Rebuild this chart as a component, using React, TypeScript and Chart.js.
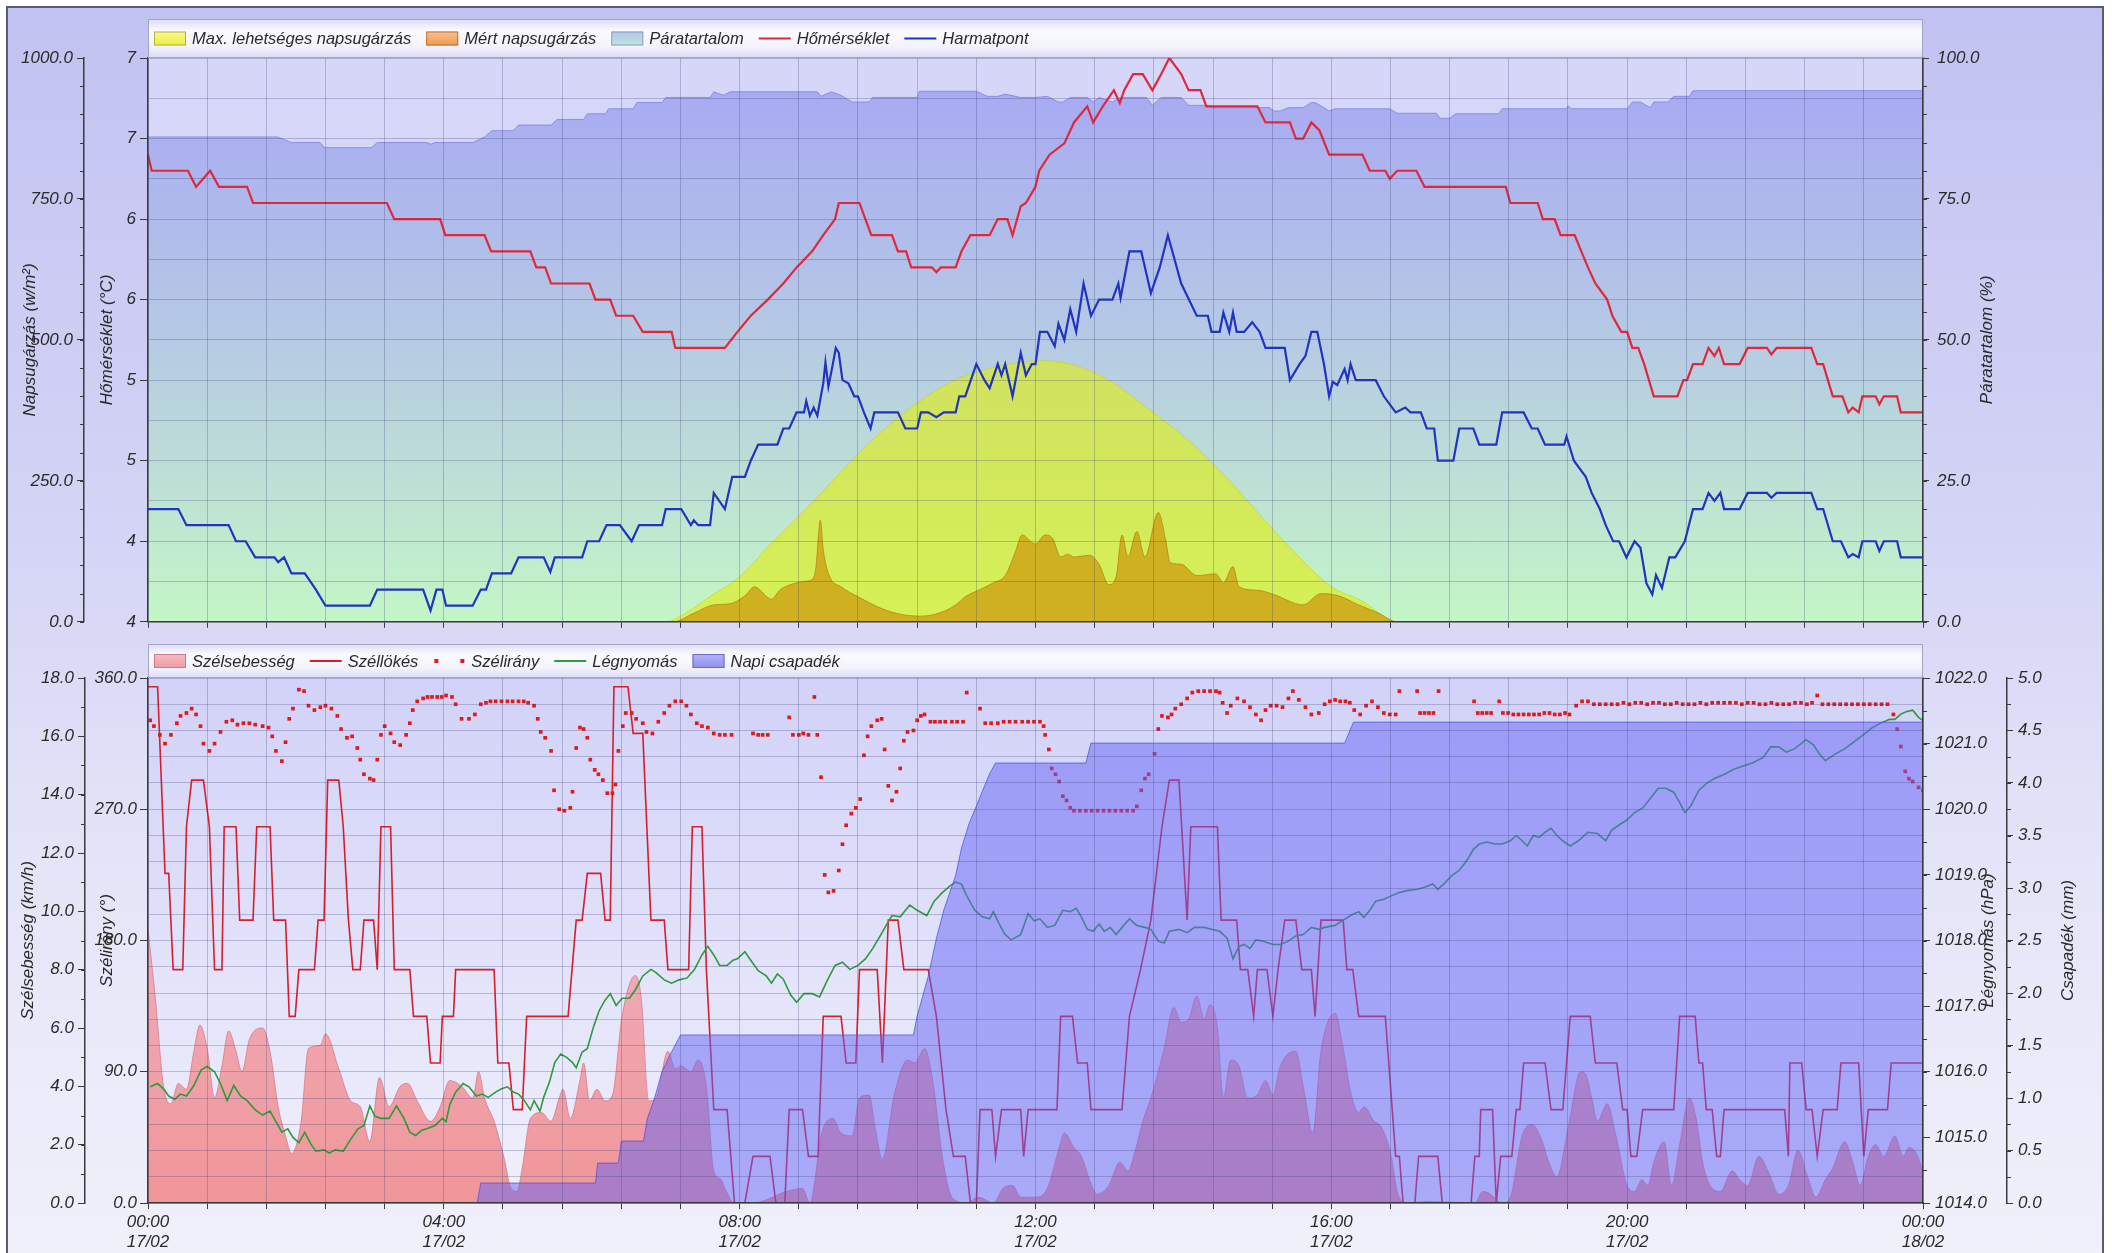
import React, { useEffect, useRef } from 'react';
import { Chart, registerables } from 'chart.js';

Chart.register(...registerables);

// ---------------- DATA (hour of day, value) ----------------
const TEMPERATURE: number[][] = [[0,6.7],[0.05,6.6],[0.54,6.6],[0.65,6.5],[0.84,6.6],[0.96,6.5],[1.34,6.5],[1.42,6.4],[3.23,6.4],[3.33,6.3],[3.95,6.3],[4.02,6.2],[4.55,6.2],[4.64,6.1],[5.17,6.1],[5.25,6.0],[5.37,6.0],[5.45,5.9],[5.97,5.9],[6.05,5.8],[6.25,5.8],[6.33,5.7],[6.56,5.7],[6.69,5.6],[7.08,5.6],[7.13,5.5],[7.8,5.5],[7.97,5.6],[8.15,5.7],[8.38,5.8],[8.59,5.9],[8.77,6.0],[8.98,6.1],[9.13,6.2],[9.29,6.3],[9.34,6.4],[9.62,6.4],[9.7,6.3],[9.78,6.2],[10.06,6.2],[10.14,6.1],[10.25,6.1],[10.32,6.0],[10.6,6.0],[10.66,5.97],[10.72,6.0],[10.92,6.0],[11.0,6.1],[11.12,6.2],[11.38,6.2],[11.49,6.3],[11.62,6.3],[11.69,6.2],[11.8,6.38],[11.87,6.4],[12.0,6.5],[12.05,6.6],[12.19,6.7],[12.39,6.77],[12.52,6.9],[12.7,7.0],[12.78,6.9],[12.91,7.0],[13.06,7.1],[13.14,7.02],[13.2,7.1],[13.32,7.2],[13.45,7.2],[13.58,7.1],[13.7,7.2],[13.81,7.3],[13.97,7.2],[14.07,7.1],[14.23,7.1],[14.31,7.0],[15.0,7.0],[15.11,6.9],[15.44,6.9],[15.52,6.8],[15.62,6.8],[15.73,6.9],[15.84,6.85],[15.97,6.7],[16.42,6.7],[16.52,6.6],[16.73,6.6],[16.79,6.55],[16.89,6.6],[17.15,6.6],[17.26,6.5],[18.36,6.5],[18.42,6.4],[18.79,6.4],[18.86,6.3],[19.02,6.3],[19.1,6.2],[19.29,6.2],[19.38,6.1],[19.47,6.0],[19.57,5.9],[19.73,5.8],[19.8,5.7],[19.92,5.6],[20.0,5.6],[20.07,5.5],[20.15,5.5],[20.23,5.4],[20.36,5.2],[20.68,5.2],[20.76,5.3],[20.81,5.3],[20.89,5.4],[21.02,5.4],[21.1,5.5],[21.18,5.45],[21.24,5.5],[21.31,5.4],[21.52,5.4],[21.63,5.5],[21.89,5.5],[21.95,5.46],[22.02,5.5],[22.49,5.5],[22.57,5.4],[22.65,5.4],[22.78,5.2],[22.91,5.2],[22.99,5.1],[23.05,5.13],[23.13,5.1],[23.18,5.2],[23.36,5.2],[23.41,5.15],[23.47,5.2],[23.65,5.2],[23.7,5.1],[24,5.1]];

const DEW_POINT: number[][] = [[0,4.5],[0.41,4.5],[0.52,4.4],[1.09,4.4],[1.19,4.3],[1.32,4.3],[1.45,4.2],[1.71,4.2],[1.76,4.17],[1.84,4.2],[1.94,4.1],[2.12,4.1],[2.27,4.0],[2.4,3.9],[3.0,3.9],[3.1,4.0],[3.72,4.0],[3.82,3.87],[3.9,4.0],[3.98,4.0],[4.03,3.9],[4.39,3.9],[4.5,4.0],[4.57,4.0],[4.65,4.1],[4.91,4.1],[5.01,4.2],[5.35,4.2],[5.44,4.11],[5.5,4.2],[5.87,4.2],[5.94,4.3],[6.1,4.3],[6.2,4.4],[6.38,4.4],[6.54,4.3],[6.64,4.4],[6.95,4.4],[7.0,4.5],[7.21,4.5],[7.34,4.4],[7.38,4.43],[7.44,4.4],[7.6,4.4],[7.65,4.6],[7.8,4.5],[7.9,4.7],[8.07,4.7],[8.15,4.8],[8.25,4.9],[8.51,4.9],[8.59,5.0],[8.67,5.0],[8.77,5.1],[8.87,5.1],[8.9,5.17],[8.95,5.08],[9.0,5.13],[9.05,5.08],[9.13,5.28],[9.16,5.41],[9.2,5.26],[9.26,5.4],[9.3,5.5],[9.34,5.47],[9.39,5.3],[9.47,5.28],[9.55,5.2],[9.6,5.2],[9.68,5.1],[9.77,5.0],[9.82,5.1],[10.14,5.1],[10.24,5.0],[10.4,5.0],[10.45,5.1],[10.55,5.1],[10.66,5.07],[10.76,5.1],[10.92,5.1],[10.97,5.2],[11.05,5.2],[11.2,5.4],[11.31,5.3],[11.38,5.25],[11.49,5.4],[11.54,5.33],[11.59,5.4],[11.69,5.2],[11.8,5.47],[11.87,5.33],[11.95,5.4],[12.0,5.4],[12.06,5.6],[12.16,5.6],[12.26,5.51],[12.31,5.65],[12.39,5.55],[12.47,5.74],[12.55,5.6],[12.65,5.9],[12.75,5.7],[12.86,5.8],[13.04,5.8],[13.12,5.9],[13.15,5.81],[13.27,6.1],[13.43,6.1],[13.56,5.84],[13.68,6.0],[13.79,6.2],[13.97,5.9],[14.18,5.7],[14.33,5.7],[14.38,5.6],[14.49,5.6],[14.54,5.72],[14.62,5.6],[14.67,5.72],[14.72,5.6],[14.82,5.6],[14.93,5.66],[15.03,5.6],[15.11,5.5],[15.37,5.5],[15.44,5.3],[15.57,5.4],[15.65,5.45],[15.73,5.6],[15.81,5.6],[15.9,5.4],[15.97,5.2],[16.02,5.29],[16.08,5.27],[16.18,5.37],[16.22,5.3],[16.26,5.4],[16.33,5.3],[16.6,5.3],[16.71,5.2],[16.87,5.1],[17.0,5.13],[17.07,5.1],[17.21,5.1],[17.29,5.0],[17.39,5.0],[17.44,4.8],[17.65,4.8],[17.73,5.0],[17.92,5.0],[18.0,4.9],[18.23,4.9],[18.31,5.1],[18.6,5.1],[18.71,5.0],[18.79,5.0],[18.89,4.9],[19.15,4.9],[19.18,4.95],[19.28,4.8],[19.44,4.7],[19.52,4.6],[19.63,4.5],[19.71,4.4],[19.81,4.3],[19.89,4.3],[19.99,4.2],[20.1,4.3],[20.18,4.26],[20.26,4.04],[20.34,3.97],[20.39,4.09],[20.47,4.01],[20.57,4.2],[20.65,4.2],[20.78,4.3],[20.89,4.5],[21.02,4.5],[21.1,4.6],[21.18,4.55],[21.26,4.6],[21.31,4.5],[21.52,4.5],[21.63,4.6],[21.89,4.6],[21.95,4.57],[22.02,4.6],[22.49,4.6],[22.57,4.5],[22.65,4.5],[22.78,4.3],[22.89,4.3],[22.99,4.2],[23.05,4.22],[23.13,4.2],[23.18,4.3],[23.36,4.3],[23.41,4.24],[23.47,4.3],[23.65,4.3],[23.7,4.2],[24,4.2]];

const HUMIDITY: number[][] = [[0,86.0],[1.75,86.0],[1.83,85.6],[1.94,85.0],[2.33,85.0],[2.38,84.1],[3.02,84.1],[3.1,85.0],[3.77,85.0],[3.82,84.7],[3.88,85.0],[4.39,85.0],[4.55,86.0],[4.65,87.1],[4.94,87.1],[5.01,88.1],[5.45,88.1],[5.53,89.1],[5.89,89.1],[5.94,90.1],[6.18,90.1],[6.23,91.0],[6.56,91.0],[6.61,92.1],[6.95,92.1],[7.0,93.0],[7.6,93.0],[7.65,94.0],[7.78,93.4],[7.87,94.0],[9.05,94.0],[9.1,93.2],[9.24,94.0],[9.37,93.4],[9.52,92.2],[9.75,92.2],[9.8,93.0],[10.4,93.0],[10.43,94.1],[11.2,94.1],[11.35,93.2],[11.49,93.2],[11.59,93.6],[11.8,93.0],[12.0,93.0],[12.16,93.2],[12.31,92.2],[12.37,92.2],[12.47,93.0],[12.7,93.0],[12.78,92.2],[12.86,93.0],[13.04,92.2],[13.14,93.0],[13.5,93.0],[13.58,91.6],[13.7,93.0],[13.97,93.0],[14.07,91.6],[14.33,91.6],[14.38,91.2],[15.16,91.2],[15.23,90.6],[15.31,90.6],[15.42,91.2],[15.62,91.2],[15.73,92.1],[15.78,92.1],[15.9,91.2],[15.97,90.6],[16.05,91.0],[16.79,91.0],[16.89,90.2],[17.42,90.2],[17.47,89.3],[17.6,89.3],[17.68,90.1],[18.26,90.1],[18.31,91.0],[19.18,91.0],[19.2,91.5],[19.25,91.0],[20.0,91.0],[20.07,92.2],[20.18,92.2],[20.31,91.2],[20.36,92.2],[20.55,92.2],[20.63,93.2],[20.84,93.2],[20.89,94.2],[24,94.2]];

const MAX_RADIATION: number[][] = [[0,0],[7.0,0],[7.3,18],[7.6,45],[8.0,80],[8.4,135],[8.9,200],[9.4,270],[9.9,335],[10.4,388],[10.9,428],[11.5,453],[12.1,463],[12.5,456],[13.0,428],[13.5,380],[14.1,318],[14.6,253],[15.1,180],[15.6,110],[16.0,62],[16.4,38],[16.9,0],[24,0]];

const MEASURED_RADIATION: number[][] = [[0,0],[7.1,0],[7.39,16],[7.65,30],[7.87,32],[8.07,46],[8.2,62],[8.38,43],[8.43,40],[8.54,56],[8.69,66],[8.9,72],[8.98,75],[9.03,95],[9.07,160],[9.09,180],[9.13,128],[9.21,82],[9.37,62],[9.62,43],[9.93,23],[10.19,13],[10.45,10],[10.71,16],[10.92,30],[11.07,46],[11.23,56],[11.43,69],[11.59,82],[11.72,121],[11.82,154],[11.95,141],[12.0,138],[12.13,154],[12.23,148],[12.34,115],[12.44,120],[12.52,115],[12.73,118],[12.86,102],[12.99,66],[13.09,80],[13.17,154],[13.25,115],[13.37,160],[13.48,115],[13.66,194],[13.76,145],[13.82,105],[13.97,102],[14.18,82],[14.44,85],[14.54,69],[14.67,98],[14.75,62],[15.0,56],[15.21,49],[15.62,30],[15.86,50],[16.1,46],[16.37,30],[16.63,16],[16.89,0],[24,0]];

const WIND_SPEED: number[][] = [[0,9.4],[0.1,7.0],[0.21,4.0],[0.31,3.4],[0.41,4.1],[0.52,3.9],[0.62,5.2],[0.7,6.1],[0.8,5.3],[0.9,3.6],[1.0,4.7],[1.09,5.9],[1.19,5.2],[1.27,4.5],[1.37,5.6],[1.55,6.0],[1.65,5.2],[1.76,3.3],[1.86,2.3],[1.94,1.7],[2.07,2.8],[2.17,5.3],[2.33,5.4],[2.4,5.8],[2.58,4.6],[2.74,3.5],[2.87,3.3],[3.0,2.1],[3.13,4.3],[3.26,3.3],[3.41,4.0],[3.51,4.1],[3.64,3.5],[3.82,2.8],[3.95,3.3],[4.08,4.2],[4.24,4.0],[4.39,3.6],[4.47,4.5],[4.55,3.6],[4.68,2.8],[4.81,1.6],[4.91,0.5],[4.99,0.4],[5.06,1.2],[5.17,2.9],[5.32,3.1],[5.45,2.8],[5.56,3.6],[5.61,3.9],[5.71,2.9],[5.84,4.2],[5.89,4.8],[5.97,3.5],[6.07,3.9],[6.18,3.5],[6.28,3.7],[6.41,6.4],[6.59,7.8],[6.67,7.0],[6.77,3.5],[6.87,3.6],[7.03,5.2],[7.13,4.6],[7.21,4.7],[7.34,4.5],[7.44,4.9],[7.55,4.0],[7.65,1.1],[7.75,0.8],[7.8,0.5],[7.93,0],[8.18,0],[8.64,0.4],[8.85,0.5],[8.95,0],[9.11,2.4],[9.26,2.9],[9.37,2.4],[9.52,2.3],[9.62,3.6],[9.75,3.7],[9.83,2.6],[9.93,1.5],[10.09,3.7],[10.27,4.9],[10.37,4.8],[10.5,5.3],[10.61,4.2],[10.74,1.6],[10.87,0.2],[11.07,0],[11.23,0.2],[11.43,0],[11.56,0.5],[11.69,0.6],[11.8,0.2],[12.0,0.2],[12.16,0.5],[12.31,1.8],[12.39,2.4],[12.52,1.9],[12.62,1.6],[12.73,0.8],[12.83,0.3],[12.99,0.6],[13.14,1.4],[13.25,1.1],[13.35,1.8],[13.45,2.8],[13.56,3.6],[13.66,4.5],[13.74,5.3],[13.87,6.7],[13.97,6.2],[14.07,6.3],[14.18,7.1],[14.28,6.3],[14.36,6.8],[14.46,6.0],[14.54,3.6],[14.64,4.9],[14.75,4.7],[14.87,3.6],[15.0,3.7],[15.11,4.2],[15.21,3.7],[15.31,4.7],[15.52,5.2],[15.62,4.0],[15.75,2.4],[15.86,5.2],[16.05,6.5],[16.16,5.3],[16.26,3.8],[16.37,3.1],[16.44,3.3],[16.58,2.8],[16.68,2.6],[16.81,1.6],[16.89,0.4],[17.0,0],[17.31,0.05],[17.94,0],[18.05,0.4],[18.15,0.3],[18.31,0],[18.42,0.2],[18.58,2.3],[18.71,2.7],[18.84,2.2],[18.94,1.4],[19.05,0.9],[19.21,2.7],[19.37,4.5],[19.44,4.4],[19.52,3.6],[19.6,2.8],[19.73,3.4],[19.84,2.4],[20.0,0.6],[20.1,0.4],[20.2,0.8],[20.28,0.6],[20.36,1.4],[20.5,2.1],[20.6,0.6],[20.71,2.0],[20.84,3.6],[20.94,2.8],[21.02,1.4],[21.15,0.5],[21.26,0.4],[21.42,1.1],[21.52,0.8],[21.63,0.6],[21.78,1.6],[21.92,1.0],[22.05,0.3],[22.18,0.6],[22.31,1.8],[22.44,0.9],[22.55,0.2],[22.68,0.8],[22.78,1.2],[22.94,2.1],[23.05,1.4],[23.15,0.6],[23.26,1.6],[23.36,2.0],[23.47,1.6],[23.62,2.3],[23.73,1.6],[23.81,1.9],[23.91,1.7],[24,1.1]];

const WIND_GUST: number[][] = [[0,17.7],[0.13,17.7],[0.23,11.3],[0.28,11.3],[0.34,8.0],[0.47,8.0],[0.52,12.9],[0.59,14.5],[0.75,14.5],[0.83,12.9],[0.9,8.0],[1.0,8.0],[1.03,12.9],[1.19,12.9],[1.24,9.7],[1.42,9.7],[1.47,12.9],[1.65,12.9],[1.7,9.7],[1.86,9.7],[1.91,6.4],[1.99,6.4],[2.04,8.0],[2.25,8.0],[2.3,9.7],[2.38,9.7],[2.43,14.5],[2.58,14.5],[2.64,12.9],[2.71,9.7],[2.77,8.0],[2.87,8.0],[2.92,9.7],[3.05,9.7],[3.1,8.0],[3.15,12.9],[3.28,12.9],[3.33,8.0],[3.54,8.0],[3.59,6.4],[3.77,6.4],[3.82,4.8],[3.95,4.8],[3.98,6.4],[4.13,6.4],[4.16,8.0],[4.68,8.0],[4.73,4.8],[4.88,4.8],[4.94,3.2],[5.06,3.2],[5.12,6.4],[5.68,6.4],[5.79,9.7],[5.87,9.7],[5.94,11.3],[6.12,11.3],[6.18,9.7],[6.25,9.7],[6.3,17.7],[6.49,17.7],[6.56,16.1],[6.69,16.1],[6.8,9.7],[6.98,9.7],[7.03,8.0],[7.31,8.0],[7.36,12.9],[7.49,12.9],[7.55,8.0],[7.65,3.2],[7.83,3.2],[7.93,0],[8.07,0],[8.18,1.6],[8.41,1.6],[8.49,0],[8.61,0],[8.67,3.2],[8.85,3.2],[8.93,1.6],[9.06,1.6],[9.13,6.4],[9.37,6.4],[9.44,4.8],[9.57,4.8],[9.62,8.0],[9.86,8.0],[9.93,4.8],[10.01,9.7],[10.14,9.7],[10.22,8.0],[10.55,8.0],[10.66,6.4],[10.79,3.2],[10.89,1.6],[11.05,1.6],[11.12,0],[11.2,0],[11.25,3.2],[11.41,3.2],[11.46,1.6],[11.54,3.2],[11.8,3.2],[11.84,1.6],[11.9,3.2],[12.29,3.2],[12.34,6.4],[12.5,6.4],[12.57,4.8],[12.7,4.8],[12.75,3.2],[13.17,3.2],[13.27,6.4],[13.42,8.0],[13.56,9.7],[13.71,12.9],[13.81,14.5],[13.94,14.5],[14.05,9.7],[14.1,12.9],[14.46,12.9],[14.51,9.7],[14.72,9.7],[14.77,8.0],[14.87,8.0],[14.95,6.4],[15.0,8.0],[15.13,8.0],[15.21,6.4],[15.28,8.0],[15.37,9.7],[15.52,9.7],[15.6,8.0],[15.73,8.0],[15.78,6.4],[15.86,9.7],[16.16,9.7],[16.21,8.0],[16.29,8.0],[16.37,6.4],[16.73,6.4],[16.87,1.6],[16.92,1.6],[16.97,0],[17.13,0],[17.18,1.6],[17.44,1.6],[17.5,0],[17.89,0],[17.94,1.6],[18.0,1.6],[18.02,3.2],[18.18,3.2],[18.23,0],[18.29,1.6],[18.44,1.6],[18.5,3.2],[18.55,3.2],[18.6,4.8],[18.89,4.8],[18.97,3.2],[19.13,3.2],[19.23,6.4],[19.5,6.4],[19.57,4.8],[19.86,4.8],[19.94,3.2],[20.0,3.2],[20.05,1.6],[20.13,1.6],[20.21,3.2],[20.63,3.2],[20.71,6.4],[20.92,6.4],[20.97,4.8],[21.02,4.8],[21.07,3.2],[21.15,3.2],[21.21,1.6],[21.26,1.6],[21.31,3.2],[22.13,3.2],[22.18,1.6],[22.2,4.8],[22.36,4.8],[22.42,3.2],[22.5,3.2],[22.57,1.6],[22.65,3.2],[22.84,3.2],[22.89,4.8],[23.13,4.8],[23.2,1.6],[23.26,3.2],[23.52,3.2],[23.57,4.8],[24,4.8]];

const WIND_DIRECTION: number[][] = [[0.03,331],[0.08,327],[0.16,321],[0.23,315],[0.31,321],[0.39,329],[0.44,334],[0.52,336],[0.59,339],[0.65,335],[0.71,327],[0.75,315],[0.83,310],[0.9,315],[0.98,323],[1.06,330],[1.14,331],[1.21,328],[1.29,329],[1.37,329],[1.45,328],[1.55,327],[1.63,326],[1.68,320],[1.73,310],[1.81,303],[1.86,316],[1.91,332],[1.96,339],[2.04,352],[2.11,351],[2.17,341],[2.25,338],[2.33,340],[2.4,341],[2.48,339],[2.56,334],[2.61,325],[2.69,319],[2.76,320],[2.83,312],[2.87,304],[2.92,294],[3.0,291],[3.05,290],[3.1,304],[3.15,321],[3.2,327],[3.28,322],[3.33,316],[3.41,314],[3.49,321],[3.54,329],[3.58,338],[3.64,344],[3.72,346],[3.78,347],[3.84,347],[3.91,347],[3.97,347],[4.03,348],[4.11,347],[4.16,342],[4.24,332],[4.34,332],[4.42,335],[4.5,342],[4.57,343],[4.63,344],[4.7,344],[4.78,344],[4.86,344],[4.93,344],[5.01,344],[5.08,344],[5.14,343],[5.22,341],[5.27,332],[5.31,323],[5.37,319],[5.45,310],[5.49,283],[5.56,270],[5.63,269],[5.71,271],[5.74,282],[5.79,312],[5.84,326],[5.89,325],[5.94,319],[5.98,304],[6.04,297],[6.09,294],[6.15,290],[6.21,281],[6.28,281],[6.32,287],[6.36,310],[6.42,327],[6.46,336],[6.54,336],[6.6,332],[6.69,329],[6.74,323],[6.82,322],[6.9,330],[6.98,336],[7.05,341],[7.13,344],[7.21,344],[7.28,341],[7.34,335],[7.42,329],[7.49,327],[7.57,326],[7.65,322],[7.73,321],[7.8,321],[7.89,321],[8.18,322],[8.25,321],[8.31,321],[8.38,321],[8.67,333],[8.72,321],[8.8,321],[8.86,322],[8.93,321],[9.01,347],[9.05,321],[9.1,292],[9.15,225],[9.2,213],[9.27,214],[9.34,228],[9.39,246],[9.44,259],[9.51,267],[9.57,271],[9.63,277],[9.68,307],[9.73,320],[9.78,327],[9.86,331],[9.92,332],[9.96,311],[10.01,286],[10.06,276],[10.12,282],[10.17,298],[10.22,317],[10.27,323],[10.35,324],[10.4,331],[10.45,334],[10.5,335],[10.58,330],[10.64,330],[10.71,330],[10.78,330],[10.87,330],[10.94,330],[11.02,330],[11.07,350],[11.25,339],[11.32,329],[11.4,329],[11.49,329],[11.57,330],[11.65,330],[11.73,330],[11.82,330],[11.9,330],[11.98,330],[12.06,330],[12.11,327],[12.13,321],[12.18,311],[12.22,298],[12.27,294],[12.32,289],[12.37,279],[12.42,276],[12.47,271],[12.52,269],[12.6,269],[12.68,269],[12.76,269],[12.84,269],[12.92,269],[13.0,269],[13.08,269],[13.16,269],[13.24,269],[13.32,269],[13.37,272],[13.43,283],[13.48,291],[13.53,294],[13.61,308],[13.66,325],[13.71,334],[13.79,333],[13.84,335],[13.89,339],[13.97,342],[14.05,346],[14.12,350],[14.2,351],[14.28,351],[14.36,351],[14.44,351],[14.49,350],[14.53,343],[14.59,336],[14.64,341],[14.73,346],[14.82,344],[14.9,340],[14.98,335],[15.05,331],[15.11,338],[15.18,341],[15.26,341],[15.34,340],[15.42,346],[15.48,351],[15.56,345],[15.65,340],[15.73,335],[15.83,336],[15.91,342],[15.98,344],[16.05,345],[16.12,344],[16.19,344],[16.25,343],[16.31,338],[16.39,335],[16.47,341],[16.55,344],[16.63,340],[16.71,336],[16.79,335],[16.87,335],[16.92,351],[17.16,351],[17.2,336],[17.26,336],[17.32,336],[17.38,336],[17.45,351],[17.93,344],[17.98,336],[18.04,336],[18.1,336],[18.16,336],[18.27,344],[18.32,336],[18.39,336],[18.46,335],[18.53,335],[18.6,335],[18.67,335],[18.74,335],[18.81,335],[18.88,336],[18.95,336],[19.02,335],[19.09,335],[19.16,336],[19.22,335],[19.31,341],[19.39,344],[19.47,344],[19.55,342],[19.63,342],[19.71,342],[19.79,342],[19.87,342],[19.95,343],[20.03,342],[20.11,343],[20.19,343],[20.27,342],[20.35,343],[20.43,343],[20.51,342],[20.59,342],[20.67,343],[20.75,342],[20.83,342],[20.91,342],[20.99,343],[21.07,342],[21.15,343],[21.23,343],[21.31,343],[21.39,343],[21.47,343],[21.55,342],[21.63,343],[21.71,343],[21.79,342],[21.87,342],[21.95,343],[22.03,342],[22.11,342],[22.19,342],[22.27,343],[22.35,343],[22.43,342],[22.5,343],[22.57,348],[22.64,342],[22.72,342],[22.8,342],[22.88,342],[22.96,342],[23.04,342],[23.12,342],[23.2,342],[23.28,342],[23.36,342],[23.44,342],[23.52,342],[23.6,335],[23.65,325],[23.7,313],[23.76,296],[23.81,291],[23.86,289],[23.94,285],[24,283]];

const PRESSURE: number[][] = [[0.03,1015.77],[0.13,1015.82],[0.21,1015.74],[0.28,1015.63],[0.36,1015.58],[0.44,1015.66],[0.52,1015.63],[0.62,1015.79],[0.72,1016.03],[0.8,1016.08],[0.9,1016.0],[0.98,1015.82],[1.07,1015.56],[1.16,1015.79],[1.25,1015.63],[1.34,1015.56],[1.45,1015.42],[1.55,1015.34],[1.65,1015.4],[1.73,1015.24],[1.81,1015.08],[1.89,1015.13],[1.96,1015.0],[2.04,1014.92],[2.12,1015.08],[2.2,1014.9],[2.27,1014.79],[2.38,1014.81],[2.45,1014.76],[2.53,1014.81],[2.64,1014.79],[2.74,1014.97],[2.84,1015.13],[2.92,1015.18],[3.0,1015.48],[3.07,1015.32],[3.15,1015.29],[3.26,1015.29],[3.36,1015.48],[3.46,1015.29],[3.54,1015.08],[3.62,1015.03],[3.7,1015.11],[3.77,1015.13],[3.88,1015.18],[3.98,1015.29],[4.03,1015.24],[4.08,1015.5],[4.16,1015.69],[4.26,1015.82],[4.34,1015.77],[4.44,1015.63],[4.52,1015.66],[4.6,1015.61],[4.7,1015.69],[4.78,1015.74],[4.86,1015.77],[4.94,1015.69],[5.01,1015.66],[5.09,1015.56],[5.17,1015.42],[5.22,1015.56],[5.3,1015.4],[5.35,1015.61],[5.43,1015.85],[5.5,1016.14],[5.58,1016.27],[5.66,1016.22],[5.74,1016.14],[5.79,1016.06],[5.87,1016.3],[5.94,1016.35],[6.02,1016.67],[6.1,1016.93],[6.18,1017.09],[6.25,1017.19],[6.33,1017.01],[6.41,1017.12],[6.51,1017.12],[6.59,1017.25],[6.69,1017.46],[6.8,1017.56],[6.87,1017.51],[6.98,1017.4],[7.08,1017.35],[7.18,1017.4],[7.29,1017.43],[7.39,1017.56],[7.49,1017.78],[7.57,1017.91],[7.65,1017.78],[7.73,1017.62],[7.83,1017.62],[7.91,1017.7],[7.97,1017.72],[8.07,1017.83],[8.15,1017.7],[8.25,1017.54],[8.36,1017.46],[8.43,1017.35],[8.51,1017.49],[8.59,1017.41],[8.69,1017.17],[8.77,1017.06],[8.87,1017.19],[8.98,1017.19],[9.08,1017.14],[9.18,1017.38],[9.29,1017.62],[9.39,1017.67],[9.49,1017.56],[9.6,1017.62],[9.7,1017.72],[9.8,1017.88],[9.91,1018.09],[9.99,1018.25],[10.06,1018.38],[10.17,1018.36],[10.3,1018.54],[10.4,1018.46],[10.53,1018.38],[10.63,1018.6],[10.74,1018.73],[10.84,1018.83],[10.92,1018.89],[11.0,1018.86],[11.07,1018.68],[11.18,1018.46],[11.28,1018.36],[11.38,1018.33],[11.43,1018.44],[11.51,1018.25],[11.59,1018.09],[11.67,1018.01],[11.8,1018.09],[11.9,1018.41],[11.98,1018.3],[12.06,1018.33],[12.16,1018.2],[12.26,1018.23],[12.37,1018.46],[12.47,1018.44],[12.55,1018.49],[12.62,1018.36],[12.7,1018.17],[12.78,1018.14],[12.86,1018.25],[12.93,1018.14],[13.01,1018.2],[13.09,1018.09],[13.17,1018.2],[13.27,1018.33],[13.37,1018.23],[13.48,1018.2],[13.56,1018.17],[13.66,1017.99],[13.74,1017.96],[13.81,1018.14],[13.94,1018.17],[14.05,1018.12],[14.15,1018.2],[14.28,1018.2],[14.38,1018.17],[14.49,1018.14],[14.59,1018.04],[14.67,1017.72],[14.75,1017.91],[14.82,1017.94],[14.9,1017.88],[14.98,1018.01],[15.08,1017.99],[15.21,1017.94],[15.31,1017.94],[15.42,1017.99],[15.52,1018.07],[15.62,1018.09],[15.73,1018.2],[15.83,1018.17],[15.91,1018.2],[16.05,1018.23],[16.16,1018.31],[16.26,1018.38],[16.37,1018.44],[16.44,1018.35],[16.52,1018.46],[16.6,1018.6],[16.71,1018.63],[16.81,1018.68],[16.92,1018.73],[17.02,1018.76],[17.16,1018.78],[17.26,1018.81],[17.37,1018.86],[17.44,1018.78],[17.52,1018.86],[17.63,1018.99],[17.73,1019.07],[17.84,1019.23],[17.92,1019.39],[18.0,1019.47],[18.1,1019.5],[18.21,1019.47],[18.31,1019.47],[18.42,1019.52],[18.5,1019.6],[18.58,1019.52],[18.65,1019.44],[18.73,1019.6],[18.81,1019.57],[18.89,1019.65],[18.97,1019.71],[19.05,1019.6],[19.13,1019.52],[19.23,1019.44],[19.34,1019.52],[19.47,1019.65],[19.6,1019.63],[19.71,1019.52],[19.79,1019.68],[19.89,1019.76],[20.0,1019.84],[20.1,1019.95],[20.21,1020.02],[20.31,1020.16],[20.42,1020.32],[20.52,1020.32],[20.63,1020.26],[20.71,1020.1],[20.78,1019.95],[20.86,1020.05],[20.97,1020.29],[21.07,1020.39],[21.18,1020.47],[21.31,1020.53],[21.44,1020.61],[21.57,1020.66],[21.7,1020.71],[21.84,1020.79],[21.94,1020.95],[22.05,1020.95],[22.15,1020.87],[22.26,1020.92],[22.42,1021.06],[22.52,1020.98],[22.6,1020.84],[22.68,1020.74],[22.81,1020.84],[22.94,1020.92],[23.07,1021.03],[23.2,1021.14],[23.31,1021.24],[23.44,1021.32],[23.55,1021.37],[23.62,1021.37],[23.7,1021.45],[23.78,1021.49],[23.86,1021.51],[23.94,1021.4],[24,1021.35]];

const DAILY_PRECIP: number[][] = [[4.45,0],[4.5,0.19],[6.05,0.19],[6.08,0.38],[6.36,0.38],[6.4,0.59],[6.7,0.59],[6.75,0.8],[6.85,1.0],[6.95,1.25],[7.05,1.4],[7.2,1.6],[10.35,1.6],[10.4,1.78],[10.55,2.16],[10.66,2.52],[10.76,2.79],[10.92,3.12],[11.0,3.38],[11.1,3.61],[11.2,3.78],[11.31,3.97],[11.38,4.09],[11.46,4.19],[12.68,4.19],[12.75,4.38],[16.18,4.38],[16.3,4.58],[24,4.58]];

// ---------------- TICKS / LABELS ----------------
const RAD_TICKS = [0, 250, 500, 750, 1000];
const HUM_TICKS = [0, 25, 50, 75, 100];
const TEMP_TICK_VALUES = [3.8, 4.3, 4.8, 5.3, 5.8, 6.3, 6.8, 7.3];
const TEMP_TICK_LABELS = ['4', '4', '5', '5', '6', '6', '7', '7'];
const SPEED_TICKS = [0, 2, 4, 6, 8, 10, 12, 14, 16, 18];
const DIR_TICKS = [0, 90, 180, 270, 360];
const PRES_TICKS = [1014, 1015, 1016, 1017, 1018, 1019, 1020, 1021, 1022];
const PREC_TICKS = [0, 0.5, 1, 1.5, 2, 2.5, 3, 3.5, 4, 4.5, 5];
const X_LABEL_HOURS = [0, 4, 8, 12, 16, 20, 24];
const X_LABELS = [['00:00', '17/02'], ['04:00', '17/02'], ['08:00', '17/02'], ['12:00', '17/02'], ['16:00', '17/02'], ['20:00', '17/02'], ['00:00', '18/02']];

// ---------------- STYLE ----------------
const FAMILY = "'Liberation Sans', Arial, sans-serif";
const TICK_FONT = { family: FAMILY, size: 17, style: 'italic' as const };
const TEXT = '#2a2a2a';
const AXIS = '#3a3a3a';
const GRID = 'rgba(60,60,120,0.28)';

const pts = (a: number[][]) => a.map(([x, y]) => ({ x, y }));
const near = (a: number[], v: number) => a.findIndex((t) => Math.abs(t - v) < 1e-6);

const X_GRID: number[] = [];
for (let k = 0; k <= 30; k++) X_GRID.push(+(k * 0.8).toFixed(4));
const TEMP_GRID: number[] = [];
for (let i = 0; i < TEMP_TICK_VALUES.length; i++) {
  TEMP_GRID.push(TEMP_TICK_VALUES[i]);
  if (i < TEMP_TICK_VALUES.length - 1) TEMP_GRID.push((TEMP_TICK_VALUES[i] + TEMP_TICK_VALUES[i + 1]) / 2);
}
const DIR_GRID: number[] = [];
for (let v = 0; v <= 360; v += 18) DIR_GRID.push(v);

// ---------------- PLUGINS ----------------
const plotBg = {
  id: 'plotBg',
  beforeDraw(chart: any, _a: any, o: any) {
    const { ctx, chartArea: a } = chart;
    const g = ctx.createLinearGradient(0, a.top, 0, a.bottom);
    g.addColorStop(0, o.top);
    g.addColorStop(1, o.bottom);
    ctx.save();
    ctx.fillStyle = g;
    ctx.fillRect(a.left, a.top, a.right - a.left, a.bottom - a.top);
    ctx.restore();
  },
};

const boxLegend = {
  id: 'boxLegend',
  afterDraw(chart: any, _a: any, o: any) {
    const { ctx, chartArea: a } = chart;
    const top = o.top, h = o.height;
    ctx.save();
    const g = ctx.createLinearGradient(0, top, 0, top + h);
    g.addColorStop(0, '#dcdcf6');
    g.addColorStop(0.3, '#fafaff');
    g.addColorStop(0.7, '#f4f4fd');
    g.addColorStop(1, '#dadaf4');
    ctx.fillStyle = g;
    ctx.fillRect(a.left, top, a.right - a.left, h);
    ctx.strokeStyle = '#a4a4c8';
    ctx.lineWidth = 1;
    ctx.strokeRect(a.left + 0.5, top + 0.5, a.right - a.left - 1, h - 1);
    ctx.font = `italic 16.5px ${FAMILY}`;
    ctx.textBaseline = 'middle';
    ctx.textAlign = 'left';
    let x = a.left + 6;
    const cy = top + h / 2;
    const sw = 32;
    for (const ds of chart.data.datasets) {
      if (ds.legendKind === 'box') {
        const lg = ctx.createLinearGradient(0, cy - 7, 0, cy + 7);
        lg.addColorStop(0, ds.legendColor2 || ds.legendColor);
        lg.addColorStop(1, ds.legendColor);
        ctx.fillStyle = lg;
        ctx.fillRect(x, cy - 7, sw, 14);
        ctx.strokeStyle = ds.legendBorder;
        ctx.strokeRect(x + 0.5, cy - 6.5, sw - 1, 13);
      } else if (ds.legendKind === 'line') {
        ctx.strokeStyle = ds.borderColor;
        ctx.lineWidth = 2;
        ctx.beginPath();
        ctx.moveTo(x, cy);
        ctx.lineTo(x + sw, cy);
        ctx.stroke();
        ctx.lineWidth = 1;
      } else if (ds.legendKind === 'dots') {
        ctx.fillStyle = ds.pointBackgroundColor;
        ctx.fillRect(x + 1, cy - 2, 4, 4);
        ctx.fillRect(x + sw - 5, cy - 2, 4, 4);
      }
      x += sw + 6;
      ctx.fillStyle = TEXT;
      ctx.fillText(ds.label, x, cy + 1);
      x += ctx.measureText(ds.label).width + 15;
    }
    ctx.restore();
  },
};

const axisTitles = {
  id: 'axisTitles',
  afterDraw(chart: any, _a: any, o: any) {
    const { ctx } = chart;
    ctx.save();
    ctx.font = `italic 17px ${FAMILY}`;
    ctx.fillStyle = TEXT;
    ctx.textAlign = 'center';
    ctx.textBaseline = 'middle';
    for (const t of o.items) {
      const s = chart.scales[t.axis];
      const x = s.left + t.dx;
      const y = (s.top + s.bottom) / 2;
      ctx.save();
      ctx.translate(x, y);
      ctx.rotate(-Math.PI / 2);
      ctx.fillText(t.text, 0, 0);
      ctx.restore();
    }
    ctx.restore();
  },
};

const minorTicks = {
  id: 'minorTicks',
  afterDraw(chart: any, _a: any, o: any) {
    const { ctx } = chart;
    ctx.save();
    ctx.strokeStyle = AXIS;
    ctx.lineWidth = 1;
    for (const m of o.items) {
      const s = chart.scales[m.axis];
      const left = s.position === 'left';
      const x0 = left ? s.right : s.left;
      const n = Math.round((s.max - s.min) / m.step);
      for (let i = 0; i <= n; i++) {
        const y = Math.round(s.getPixelForValue(s.min + i * m.step)) + 0.5;
        ctx.beginPath();
        ctx.moveTo(x0, y);
        ctx.lineTo(left ? x0 - m.len : x0 + m.len, y);
        ctx.stroke();
      }
    }
    ctx.restore();
  },
};

const setTicks = (vals: number[]) => (s: any) => {
  s.ticks = vals.map((value) => ({ value }));
};
const fixW = (w: number) => (s: any) => {
  s.width = w;
};
const fixH = (h: number) => (s: any) => {
  s.height = h;
};
const fmt1 = (v: any) => Number(v).toFixed(1);
const border = { display: true, color: AXIS, width: 1.5, z: 1 };
const sideGrid = { drawOnChartArea: false, tickLength: 7, tickColor: AXIS, tickWidth: 1 };

function vAxis(position: string, weight: number, min: number, max: number, ticks: number[], width: number) {
  return {
    type: 'linear',
    position,
    weight,
    min,
    max,
    afterBuildTicks: setTicks(ticks),
    afterFit: fixW(width),
    ticks: { autoSkip: false, callback: fmt1, font: TICK_FONT, color: TEXT, padding: 4 },
    grid: sideGrid,
    border,
  };
}

function gradientFill(stops: [number, string][]) {
  return (c: any) => {
    const a = c.chart.chartArea;
    if (!a) return stops[0][1];
    const g = c.chart.ctx.createLinearGradient(0, a.top, 0, a.bottom);
    for (const [p, col] of stops) g.addColorStop(p, col);
    return g;
  };
}

function topConfig(): any {
  return {
    type: 'line',
    data: {
      datasets: [
        {
          label: 'Max. lehetséges napsugárzás', data: pts(MAX_RADIATION), yAxisID: 'rad', fill: 'start',
          backgroundColor: 'rgba(225,238,10,0.6)', borderColor: 'rgba(200,212,20,0.6)', borderWidth: 1,
          pointRadius: 0, cubicInterpolationMode: 'monotone', order: 3,
          legendKind: 'box', legendColor: '#e8ec40', legendColor2: '#fafa90', legendBorder: '#b4b438',
        },
        {
          label: 'Mért napsugárzás', data: pts(MEASURED_RADIATION), yAxisID: 'rad', fill: 'start',
          backgroundColor: 'rgba(206,165,24,0.86)', borderColor: 'rgba(175,138,20,0.8)', borderWidth: 1,
          pointRadius: 0, cubicInterpolationMode: 'monotone', order: 2,
          legendKind: 'box', legendColor: '#f09a50', legendColor2: '#f8c090', legendBorder: '#c07030',
        },
        {
          label: 'Páratartalom', data: pts(HUMIDITY), yAxisID: 'hum', fill: 'start',
          backgroundColor: gradientFill([[0, 'rgb(166,166,244)'], [0.5, 'rgb(182,202,228)'], [1, 'rgb(196,246,198)']]),
          borderColor: 'rgba(130,130,225,0.8)', borderWidth: 1, pointRadius: 0, order: 4,
          legendKind: 'box', legendColor: '#bfe6d8', legendColor2: '#b4c4ee', legendBorder: '#8aa0c0',
        },
        {
          label: 'Hőmérséklet', data: pts(TEMPERATURE), yAxisID: 'temp', fill: false,
          borderColor: '#e0283c', borderWidth: 2.2, pointRadius: 0, order: 1, legendKind: 'line',
        },
        {
          label: 'Harmatpont', data: pts(DEW_POINT), yAxisID: 'temp', fill: false,
          borderColor: '#2034c0', borderWidth: 2.2, pointRadius: 0, order: 0, legendKind: 'line',
        },
      ],
    },
    options: {
      responsive: false,
      animation: false,
      devicePixelRatio: 1,
      layout: { padding: { top: 58, left: 0, right: 0, bottom: 0 } },
      plugins: {
        legend: { display: false },
        tooltip: { enabled: false },
        plotBg: { top: '#d6d6f8', bottom: '#d8d8f8' },
        boxLegend: { top: 19, height: 39 },
        axisTitles: {
          items: [
            { axis: 'rad', dx: 30, text: 'Napsugárzás (w/m²)' },
            { axis: 'temp', dx: 23, text: 'Hőmérséklet (°C)' },
            { axis: 'hum', dx: 64, text: 'Páratartalom (%)' },
          ],
        },
        minorTicks: { items: [{ axis: 'rad', step: 50, len: 4 }, { axis: 'hum', step: 5, len: 4 }] },
      },
      scales: {
        x: {
          type: 'linear', min: 0, max: 24, position: 'bottom',
          afterBuildTicks: setTicks(X_GRID), afterFit: fixH(14),
          ticks: { display: false, autoSkip: false },
          grid: { color: GRID, z: 1, tickLength: 6, tickColor: AXIS },
          border,
        },
        rad: { ...vAxis('left', 1, 0, 1000, RAD_TICKS, 84) },
        temp: {
          type: 'linear', position: 'left', weight: 0, min: 3.8, max: 7.3,
          afterBuildTicks: setTicks(TEMP_GRID), afterFit: fixW(64),
          ticks: {
            autoSkip: false, font: TICK_FONT, color: TEXT, padding: 4,
            callback: (v: any) => { const i = near(TEMP_TICK_VALUES, Number(v)); return i >= 0 ? TEMP_TICK_LABELS[i] : ''; },
          },
          grid: {
            color: GRID, z: 1, tickLength: 8,
            tickColor: (c: any) => (c.tick && near(TEMP_TICK_VALUES, c.tick.value) >= 0 ? AXIS : 'rgba(0,0,0,0)'),
          },
          border,
        },
        hum: { ...vAxis('right', 0, 0, 100, HUM_TICKS, 189), grid: { ...sideGrid, tickLength: 6 }, ticks: { autoSkip: false, callback: fmt1, font: TICK_FONT, color: TEXT, padding: 8 } },
      },
    },
    plugins: [plotBg, boxLegend, axisTitles, minorTicks],
  };
}

function bottomConfig(): any {
  return {
    type: 'line',
    data: {
      datasets: [
        {
          label: 'Szélsebesség', data: pts(WIND_SPEED), yAxisID: 'speed', fill: 'start',
          backgroundColor: gradientFill([[0, 'rgba(244,172,182,0.8)'], [0.5, 'rgba(243,158,168,0.8)'], [1, 'rgba(240,130,130,0.82)']]),
          borderColor: 'rgba(214,112,132,0.7)', borderWidth: 1, pointRadius: 0, cubicInterpolationMode: 'monotone', order: 4,
          legendKind: 'box', legendColor: '#ee9aa4', legendColor2: '#f6bcc2', legendBorder: '#d07a88',
        },
        {
          label: 'Széllökés', data: pts(WIND_GUST), yAxisID: 'speed', fill: false,
          borderColor: '#d81e2c', borderWidth: 1.6, pointRadius: 0, order: 3, legendKind: 'line',
        },
        {
          label: 'Szélirány', data: pts(WIND_DIRECTION), yAxisID: 'dir', showLine: false,
          pointStyle: 'rect', pointRadius: 2.6, pointBackgroundColor: '#e01a1a', pointBorderWidth: 0,
          borderColor: '#e01a1a', order: 1, legendKind: 'dots',
        },
        {
          label: 'Légnyomás', data: pts(PRESSURE), yAxisID: 'pres', fill: false,
          borderColor: '#2e9a3c', borderWidth: 1.6, pointRadius: 0, order: 2, legendKind: 'line',
        },
        {
          label: 'Napi csapadék', data: pts(DAILY_PRECIP), yAxisID: 'prec', fill: 'start',
          backgroundColor: 'rgba(100,100,245,0.5)', borderColor: 'rgba(80,80,215,0.75)', borderWidth: 1,
          pointRadius: 0, order: 0,
          legendKind: 'box', legendColor: '#8e8ef0', legendColor2: '#b4b4f6', legendBorder: '#6a6ad0',
        },
      ],
    },
    options: {
      responsive: false,
      animation: false,
      devicePixelRatio: 1,
      layout: { padding: { top: 38, left: 0, right: 0, bottom: 0 } },
      plugins: {
        legend: { display: false },
        tooltip: { enabled: false },
        plotBg: { top: '#d2d2f8', bottom: '#f0f0fc' },
        boxLegend: { top: 4, height: 34 },
        axisTitles: {
          items: [
            { axis: 'speed', dx: 28, text: 'Szélsebesség (km/h)' },
            { axis: 'dir', dx: 22, text: 'Szélirány (°)' },
            { axis: 'pres', dx: 65, text: 'Légnyomás (hPa)' },
            { axis: 'prec', dx: 61, text: 'Csapadék (mm)' },
          ],
        },
        minorTicks: {
          items: [
            { axis: 'speed', step: 1, len: 4 },
            { axis: 'pres', step: 0.5, len: 4 },
            { axis: 'prec', step: 0.25, len: 4 },
          ],
        },
      },
      scales: {
        x: {
          type: 'linear', min: 0, max: 24, position: 'bottom',
          afterBuildTicks: setTicks(X_GRID), afterFit: fixH(50),
          ticks: {
            autoSkip: false, maxRotation: 0, font: { ...TICK_FONT, lineHeight: 1.18 }, color: TEXT, padding: 3,
            callback: (v: any) => { const i = near(X_LABEL_HOURS, Number(v)); return i >= 0 ? X_LABELS[i] : ''; },
          },
          grid: { color: GRID, z: 1, tickLength: 6, tickColor: AXIS },
          border,
        },
        speed: { ...vAxis('left', 1, 0, 18, SPEED_TICKS, 85) },
        dir: {
          type: 'linear', position: 'left', weight: 0, min: 0, max: 360,
          afterBuildTicks: setTicks(DIR_GRID), afterFit: fixW(63),
          ticks: {
            autoSkip: false, font: TICK_FONT, color: TEXT, padding: 3,
            callback: (v: any) => (near(DIR_TICKS, Number(v)) >= 0 ? Number(v).toFixed(1) : ''),
          },
          grid: {
            color: GRID, z: 1, tickLength: 8,
            tickColor: (c: any) => (c.tick && near(DIR_TICKS, c.tick.value) >= 0 ? AXIS : 'rgba(0,0,0,0)'),
          },
          border,
        },
        pres: { ...vAxis('right', 0, 1014, 1022, PRES_TICKS, 84), ticks: { autoSkip: false, callback: fmt1, font: TICK_FONT, color: TEXT, padding: 5 } },
        prec: { ...vAxis('right', 1, 0, 5, PREC_TICKS, 105), grid: { ...sideGrid, tickLength: 6 }, ticks: { autoSkip: false, callback: fmt1, font: TICK_FONT, color: TEXT, padding: 5 } },
      },
    },
    plugins: [plotBg, boxLegend, axisTitles, minorTicks],
  };
}

export default function App() {
  const topRef = useRef<HTMLCanvasElement>(null);
  const botRef = useRef<HTMLCanvasElement>(null);
  useEffect(() => {
    const c1 = new Chart(topRef.current as HTMLCanvasElement, topConfig());
    const c2 = new Chart(botRef.current as HTMLCanvasElement, bottomConfig());
    return () => {
      c1.destroy();
      c2.destroy();
    };
  }, []);
  return (
    <div style={{ position: 'fixed', left: 0, top: 0, width: 2112, height: 1253, background: '#ffffff', overflow: 'hidden' }}>
      <div
        style={{
          position: 'absolute', left: 6, top: 6, width: 2098, height: 1300, boxSizing: 'border-box',
          border: '2px solid #5c5c6c',
          background: 'linear-gradient(to bottom, #c2c2f2 0%, #d4d4f6 40%, #e4e4f8 65%, #f2f2fc 100%)',
        }}
      />
      <canvas ref={topRef} width={2112} height={640} style={{ position: 'absolute', left: 0, top: 0, width: 2112, height: 640 }} />
      <canvas ref={botRef} width={2112} height={613} style={{ position: 'absolute', left: 0, top: 640, width: 2112, height: 613 }} />
    </div>
  );
}
